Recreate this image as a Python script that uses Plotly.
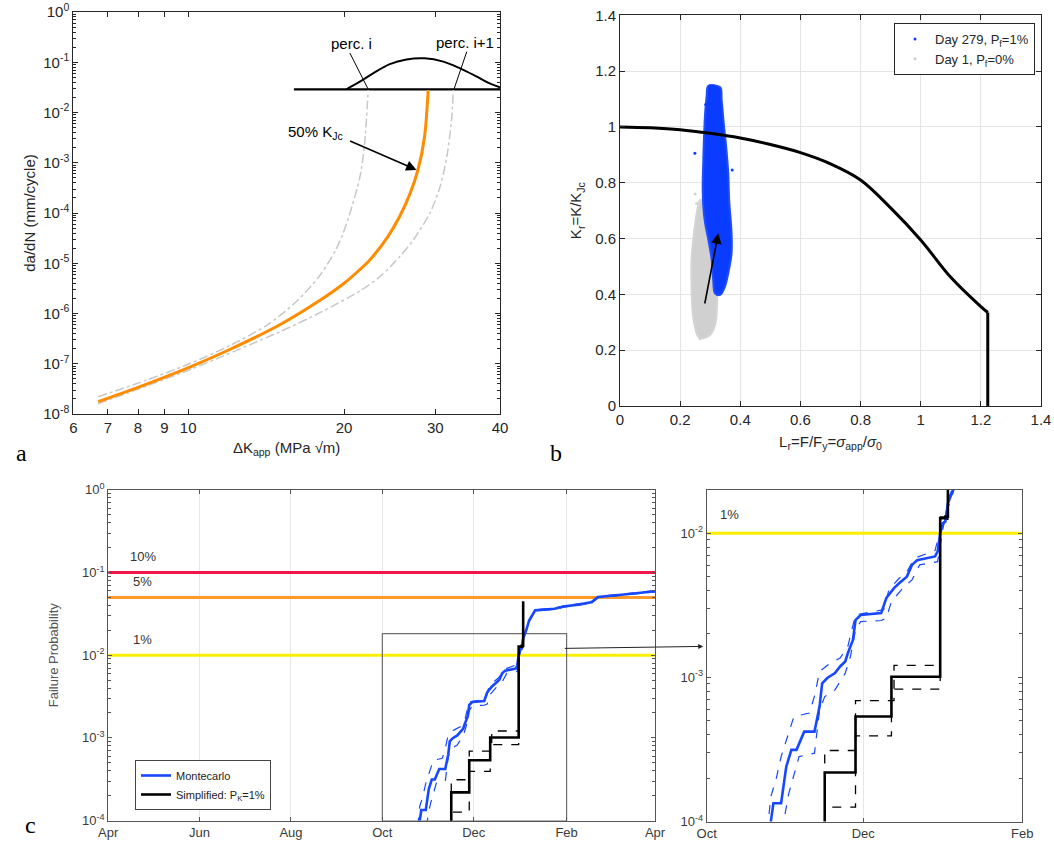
import math
import plotly.graph_objects as go

W, H = 1054, 851


def pxx(p):
    return p / W


def pxy(p):
    return 1 - p / H


# ---------------- Panel a: crack growth curves ----------------
dk_orange = [6.7, 8, 10.1, 12, 15, 18, 20, 21.2, 22.4, 24.3, 25.6, 26.8, 27.8, 28.6, 29.07]
dadn_orange = [1.76e-8, 3.4e-8, 8.7e-8, 1.9e-7, 5.9e-7, 1.85e-6, 4.0e-6, 6.7e-6, 1.15e-5, 3.4e-5, 8.5e-5,
               2.4e-4, 7.5e-4, 3.3e-3, 2.8e-2]

dk_perc_i = [6.7, 8.3, 10.1, 12.0, 14.2, 16.2, 18.0, 19.3, 19.9, 20.5, 21.45, 21.9, 22.26]
dadn_perc_i = [2.2e-8, 4.7e-8, 1.02e-7, 2.27e-7, 5.9e-7, 1.75e-6, 5.9e-6, 1.9e-5, 3.9e-5, 9.5e-5, 5.1e-4,
               2.3e-3, 2.8e-2]

dk_perc_i1 = [6.7, 10.1, 15.0, 18.0, 21.45, 23.5, 25.6, 27.2, 29.3, 30.6, 31.5, 32.25, 32.5]
dadn_perc_i1 = [1.6e-8, 7.7e-8, 4.3e-7, 1.05e-6, 2.8e-6, 5.5e-6, 1.35e-5, 2.9e-5, 1.0e-4, 3.2e-4, 1.13e-3,
                7.1e-3, 2.8e-2]

bell_x = [20.2, 21.45, 22.75, 24.5, 26.4, 28.6, 31.1, 33.5, 36.1, 38.2, 40]
bell_y = [0.029, 0.041, 0.060, 0.092, 0.114, 0.120, 0.103, 0.0757, 0.0516, 0.038, 0.0316]
base_x = [16.0, 40]
base_y = [0.0289, 0.0289]

perc_i_ptr_x = [20.52, 22.26]
perc_i_ptr_y = [0.153, 0.029]
perc_i1_ptr_x = [34.5, 32.6]
perc_i1_ptr_y = [0.162, 0.029]

a_xticks = [6, 7, 8, 9, 10, 20, 30, 40]
a_yexp = list(range(-8, 1))

# ---------------- Panel b: failure assessment diagram ----------------
lr_fad = [0, 0.1, 0.2, 0.3, 0.4, 0.5, 0.6, 0.7, 0.8, 0.9, 1.0, 1.1, 1.2, 1.223]
kr_fad = [1.0, 0.997, 0.99, 0.977, 0.96, 0.937, 0.908, 0.868, 0.81, 0.71, 0.595, 0.461, 0.356, 0.335]
lr_cutoff = [1.223, 1.223]
kr_cutoff = [0.335, 0.0]

blue_cloud_x = [0.294, 0.333, 0.338, 0.346, 0.352, 0.360, 0.363, 0.371, 0.371, 0.360, 0.349, 0.333, 0.316,
                0.310, 0.305, 0.294, 0.283, 0.277, 0.275, 0.277, 0.279, 0.283, 0.288, 0.294]
blue_cloud_y = [1.147, 1.142, 1.097, 1.001, 0.941, 0.834, 0.738, 0.619, 0.547, 0.476, 0.428, 0.398, 0.404,
                0.452, 0.523, 0.595, 0.655, 0.715, 0.786, 0.882, 0.953, 1.049, 1.109, 1.147]
grey_cloud_x = [0.266, 0.255, 0.246, 0.238, 0.238, 0.241, 0.249, 0.260, 0.277, 0.299, 0.316, 0.322, 0.322,
                0.310, 0.294, 0.283, 0.271, 0.266]
grey_cloud_y = [0.738, 0.691, 0.619, 0.523, 0.428, 0.344, 0.284, 0.249, 0.243, 0.254, 0.290, 0.344, 0.404,
                0.500, 0.619, 0.703, 0.738, 0.738]
blue_out_x = [0.249, 0.373, 0.299, 0.310, 0.322, 0.285]
blue_out_y = [0.906, 0.846, 1.147, 1.145, 1.141, 1.08]
grey_out_x = [0.255, 0.266, 0.250]
grey_out_y = [0.726, 0.241, 0.760]

# ---------------- Panel c: failure probability vs time ----------------
mc_dates = ["2018-10-25", "2018-10-26", "2018-10-27", "2018-10-30", "2018-11-01", "2018-11-03", "2018-11-05",
            "2018-11-08", "2018-11-12", "2018-11-14", "2018-11-15", "2018-11-17", "2018-11-20", "2018-11-22",
            "2018-11-24", "2018-11-25", "2018-11-27", "2018-11-28", "2018-11-30", "2018-12-08", "2018-12-10",
            "2018-12-13", "2018-12-15", "2018-12-18", "2018-12-20", "2018-12-22", "2018-12-29", "2018-12-30",
            "2018-12-31", "2019-01-01", "2019-01-02", "2019-01-03", "2019-01-05", "2019-01-07", "2019-01-11",
            "2019-01-24", "2019-01-30", "2019-02-10", "2019-02-18", "2019-02-22", "2019-03-13", "2019-04-01"]
mc_pf = [8.5e-5, 1.0e-4, 1.34e-4, 1.34e-4, 2.4e-4, 3.14e-4, 3.14e-4,
         4.2e-4, 4.2e-4, 6.3e-4, 9.1e-4, 9.9e-4, 1.07e-3, 1.19e-3,
         1.29e-3, 1.47e-3, 1.82e-3, 2.5e-3, 2.71e-3, 2.79e-3, 3.55e-3,
         4.16e-3, 4.5e-3, 5.0e-3, 6.03e-3, 6.5e-3, 6.9e-3, 7.45e-3,
         1.0e-2, 1.17e-2, 1.2e-2, 1.61e-2, 2.0e-2, 2.63e-2, 3.49e-2,
         3.65e-2, 3.88e-2, 4.12e-2, 4.4e-2, 5.06e-2, 5.46e-2, 5.93e-2]

mc_up_dates = ["2018-10-24", "2018-10-25", "2018-10-26", "2018-10-28", "2018-10-30", "2018-11-02", "2018-11-04",
               "2018-11-10", "2018-11-12", "2018-11-14", "2018-11-18", "2018-11-22", "2018-11-25", "2018-11-28",
               "2018-12-09", "2018-12-11", "2018-12-15", "2018-12-18", "2018-12-21", "2018-12-29", "2018-12-31",
               "2019-01-02", "2019-01-03", "2019-01-05", "2019-01-07", "2019-01-11", "2019-01-24", "2019-01-30",
               "2019-02-10", "2019-02-18", "2019-02-22", "2019-03-13", "2019-04-01"]
mc_up_pf = [8.5e-5, 1.0e-4, 1.49e-4, 1.95e-4, 2.82e-4, 4.1e-4, 5.35e-4,
            5.65e-4, 7.4e-4, 1.1e-3, 1.25e-3, 1.36e-3, 1.64e-3, 2.71e-3,
            2.95e-3, 4.05e-3, 4.87e-3, 5.4e-3, 6.7e-3, 7.6e-3, 1.05e-2,
            1.25e-2, 1.7e-2, 2.1e-2, 2.7e-2, 3.55e-2, 3.72e-2, 3.95e-2,
            4.2e-2, 4.5e-2, 5.15e-2, 5.55e-2, 6.05e-2]

mc_lo_dates = ["2018-10-30", "2018-10-31", "2018-11-02", "2018-11-06", "2018-11-12", "2018-11-14", "2018-11-16",
               "2018-11-20", "2018-11-24", "2018-11-26", "2018-11-28", "2018-11-30", "2018-12-08", "2018-12-10",
               "2018-12-12", "2018-12-17", "2018-12-20", "2018-12-23", "2018-12-30", "2018-12-31", "2019-01-01",
               "2019-01-03", "2019-01-05", "2019-01-07", "2019-01-11", "2019-01-24", "2019-01-30", "2019-02-10",
               "2019-02-18", "2019-02-22", "2019-03-13", "2019-04-01"]
mc_lo_pf = [8.5e-5, 1.0e-4, 1.57e-4, 2.82e-4, 2.98e-4, 5.95e-4, 7.36e-4,
            8.2e-4, 1.07e-3, 1.39e-3, 2.13e-3, 2.44e-3, 2.48e-3, 2.57e-3,
            3.36e-3, 4.27e-3, 4.74e-3, 6.03e-3, 6.35e-3, 8.07e-3, 1.07e-2,
            1.5e-2, 1.9e-2, 2.55e-2, 3.42e-2, 3.58e-2, 3.8e-2, 4.04e-2,
            4.3e-2, 4.97e-2, 5.37e-2, 5.82e-2]

simp_dates = ["2018-11-16", "2018-11-16", "2018-11-28", "2018-12-12", "2018-12-31", "2019-01-02", "2019-01-03"]
simp_pf = [8e-5, 2.19e-4, 5.35e-4, 1.01e-3, 1.27e-2, 1.3e-2, 4.5e-2]
simp_up_dates = ["2018-11-16", "2018-11-16", "2018-11-28", "2018-12-13", "2018-12-31", "2019-01-02", "2019-01-03"]
simp_up_pf = [8e-5, 3.11e-4, 6.9e-4, 1.21e-3, 1.3e-2, 1.35e-2, 4.6e-2]
simp_lo_dates = ["2018-11-16", "2018-11-16", "2018-11-28", "2018-12-12", "2018-12-31", "2019-01-02", "2019-01-03"]
simp_lo_pf = [8e-5, 1.26e-4, 3.93e-4, 8.3e-4, 1.2e-2, 1.25e-2, 4.4e-2]

levels = [0.1, 0.05, 0.01]
level_labels = ["10%", "5%", "1%"]
level_colors = ["#f0164a", "#ff9a2a", "#ffee00"]

c_start, c_end = "2018-04-01", "2019-04-01"
z_start, z_end = "2018-10-01", "2019-02-01"
zoom_box_top = 0.0182
zoom_box_bottom = 1e-4

c_tickdates = ["2018-04-01", "2018-06-01", "2018-08-01", "2018-10-01", "2018-12-01", "2019-02-01", "2019-04-01"]
c_ticknames = ["Apr", "Jun", "Aug", "Oct", "Dec", "Feb", "Apr"]
z_tickdates = ["2018-10-01", "2018-12-01", "2019-02-01"]
z_ticknames = ["Oct", "Dec", "Feb"]

# ---------------- figure ----------------
BLUE = "#1747ff"
SANS = "Liberation Sans, Arial, sans-serif"
NARROW = "Liberation Sans Narrow, Liberation Sans, Arial, sans-serif"
AX = "#262626"

fig = go.Figure()

# Panel a
fig.add_trace(go.Scatter(x=base_x, y=base_y, mode="lines", line=dict(color="black", width=2.2),
                         showlegend=False, xaxis="x", yaxis="y"))
fig.add_trace(go.Scatter(x=bell_x, y=bell_y, mode="lines", line=dict(color="black", width=2, shape="spline"),
                         showlegend=False, xaxis="x", yaxis="y"))
fig.add_trace(go.Scatter(x=dk_perc_i, y=dadn_perc_i, mode="lines",
                         line=dict(color="#c8c8c8", width=1.5, dash="dashdot", shape="spline", smoothing=0.8),
                         showlegend=False, xaxis="x", yaxis="y"))
fig.add_trace(go.Scatter(x=dk_perc_i1, y=dadn_perc_i1, mode="lines",
                         line=dict(color="#c8c8c8", width=1.5, dash="dashdot", shape="spline", smoothing=0.8),
                         showlegend=False, xaxis="x", yaxis="y"))
fig.add_trace(go.Scatter(x=dk_orange, y=dadn_orange, mode="lines",
                         line=dict(color="#ff8c00", width=3, shape="spline", smoothing=0.8),
                         showlegend=False, xaxis="x", yaxis="y"))
fig.add_trace(go.Scatter(x=perc_i_ptr_x, y=perc_i_ptr_y, mode="lines", line=dict(color="black", width=1),
                         showlegend=False, xaxis="x", yaxis="y"))
fig.add_trace(go.Scatter(x=perc_i1_ptr_x, y=perc_i1_ptr_y, mode="lines", line=dict(color="black", width=1),
                         showlegend=False, xaxis="x", yaxis="y"))

# Panel b
fig.add_trace(go.Scatter(x=grey_cloud_x, y=grey_cloud_y, mode="lines", fill="toself",
                         fillcolor="#d0d0d0", line=dict(color="#d4d4d4", width=2, shape="spline"),
                         showlegend=False, xaxis="x2", yaxis="y2"))
fig.add_trace(go.Scatter(x=blue_cloud_x, y=blue_cloud_y, mode="lines", fill="toself",
                         fillcolor="#0a3cff", line=dict(color="#1f4dff", width=2, shape="spline"),
                         showlegend=False, xaxis="x2", yaxis="y2"))
fig.add_trace(go.Scatter(x=blue_out_x, y=blue_out_y, mode="markers", marker=dict(color="#0a3cff", size=3),
                         name="Day 279, P<sub>f</sub>=1%", legend="legend", legendrank=1,
                         xaxis="x2", yaxis="y2"))
fig.add_trace(go.Scatter(x=grey_out_x, y=grey_out_y, mode="markers", marker=dict(color="#d0d0d0", size=3),
                         name="Day 1, P<sub>f</sub>=0%", legend="legend", legendrank=2,
                         xaxis="x2", yaxis="y2"))
fig.add_trace(go.Scatter(x=lr_fad, y=kr_fad, mode="lines", line=dict(color="black", width=3, shape="spline"),
                         showlegend=False, xaxis="x2", yaxis="y2"))
fig.add_trace(go.Scatter(x=lr_cutoff, y=kr_cutoff, mode="lines", line=dict(color="black", width=3),
                         showlegend=False, xaxis="x2", yaxis="y2"))

# Panel c (left and zoomed right)
for xa, ya, xr in (("x3", "y3", (c_start, c_end)), ("x4", "y4", (z_start, z_end))):
    for lvl, col in zip(levels, level_colors):
        if xa == "x4" and lvl != 0.01:
            continue
        fig.add_trace(go.Scatter(x=list(xr), y=[lvl, lvl], mode="lines", line=dict(color=col, width=3),
                                 showlegend=False, xaxis=xa, yaxis=ya))
    if xa == "x3":
        fig.add_trace(go.Scatter(x=[z_start, z_start, z_end, z_end, z_start],
                                 y=[zoom_box_bottom, zoom_box_top, zoom_box_top, zoom_box_bottom, zoom_box_bottom],
                                 mode="lines", line=dict(color="#6e6e6e", width=1.2),
                                 showlegend=False, xaxis=xa, yaxis=ya))
    fig.add_trace(go.Scatter(x=mc_up_dates, y=mc_up_pf, mode="lines",
                             line=dict(color=BLUE, width=1.2, dash="dash"),
                             showlegend=False, xaxis=xa, yaxis=ya))
    fig.add_trace(go.Scatter(x=mc_lo_dates, y=mc_lo_pf, mode="lines",
                             line=dict(color=BLUE, width=1.2, dash="dash"),
                             showlegend=False, xaxis=xa, yaxis=ya))
    fig.add_trace(go.Scatter(x=simp_up_dates, y=simp_up_pf, mode="lines",
                             line=dict(color="black", width=1.3, dash="dash", shape="hv"),
                             showlegend=False, xaxis=xa, yaxis=ya))
    fig.add_trace(go.Scatter(x=simp_lo_dates, y=simp_lo_pf, mode="lines",
                             line=dict(color="black", width=1.3, dash="dash", shape="hv"),
                             showlegend=False, xaxis=xa, yaxis=ya))
    fig.add_trace(go.Scatter(x=mc_dates, y=mc_pf, mode="lines", line=dict(color=BLUE, width=2.6),
                             name="Montecarlo", legend="legend2", showlegend=(xa == "x3"),
                             xaxis=xa, yaxis=ya))
    fig.add_trace(go.Scatter(x=simp_dates, y=simp_pf, mode="lines",
                             line=dict(color="black", width=2.6, shape="hv"),
                             name="Simplified: P<sub>K</sub>=1%", legend="legend2", showlegend=(xa == "x3"),
                             xaxis=xa, yaxis=ya))


def minor_log(lo, hi):
    return [m * 10 ** e for e in range(lo, hi) for m in range(2, 10)]


def sup_labels(exps):
    return ["10<sup>%d</sup>" % e for e in exps]


common = dict(showline=True, mirror="ticks", ticks="inside", zeroline=False, linewidth=1, automargin=False,
              ticklabeloverflow="allow")
CFONT = dict(family=NARROW, size=13, color="#3a3a3a")

layout = dict(
    width=W, height=H, margin=dict(l=0, r=0, t=0, b=0, autoexpand=False),
    paper_bgcolor="white", plot_bgcolor="white",
    font=dict(family=SANS, size=15, color=AX),
    xaxis=dict(domain=[pxx(73.3), pxx(500)], type="log", range=[math.log10(6), math.log10(40)],
               tickvals=a_xticks, ticktext=[str(v) for v in a_xticks], ticklen=5,
               linecolor=AX, tickcolor=AX, showgrid=False,
               title=dict(text="ΔK<sub>app</sub> (MPa √m)", font=dict(size=15), standoff=7),
               anchor="y", **common),
    yaxis=dict(domain=[pxy(414), pxy(12)], type="log", range=[-8, 0],
               tickvals=[10.0 ** e for e in a_yexp], ticktext=sup_labels(a_yexp), ticklen=5,
               minor=dict(tickvals=minor_log(-8, 0), ticklen=3, ticks="inside", tickcolor=AX),
               linecolor=AX, tickcolor=AX, showgrid=False,
               title=dict(text="da/dN (mm/cycle)", font=dict(size=15), standoff=4),
               anchor="x", **common),
    xaxis2=dict(domain=[pxx(620), pxx(1041)], range=[0, 1.4], dtick=0.2, tick0=0, ticklen=5,
                linecolor=AX, tickcolor=AX, showgrid=True, gridcolor="#e4e4e4",
                title=dict(text="L<sub>r</sub>=F/F<sub>y</sub>=<i>σ</i><sub>app</sub>/<i>σ</i><sub>0</sub>",
                           font=dict(size=15), standoff=9),
                anchor="y2", **common),
    yaxis2=dict(domain=[pxy(406), pxy(15.3)], range=[0, 1.4], dtick=0.2, tick0=0, ticklen=5,
                linecolor=AX, tickcolor=AX, showgrid=True, gridcolor="#e4e4e4",
                title=dict(text="K<sub>r</sub>=K/K<sub>Jc</sub>", font=dict(size=15), standoff=9),
                anchor="x2", **common),
    xaxis3=dict(domain=[pxx(108.2), pxx(655)], type="date", range=[c_start, c_end],
                tickvals=c_tickdates, ticktext=c_ticknames, ticklen=4, tickfont=CFONT,
                linecolor="#555555", tickcolor="#555555", showgrid=True, gridcolor="#e6e6e6",
                anchor="y3", **common),
    yaxis3=dict(domain=[pxy(820.5), pxy(489.9)], type="log", range=[-4, 0],
                tickvals=[1e-4, 1e-3, 1e-2, 1e-1, 1], ticktext=sup_labels([-4, -3, -2, -1, 0]), ticklen=4,
                tickfont=CFONT,
                minor=dict(tickvals=minor_log(-4, 0), ticklen=3, ticks="inside", tickcolor="#555555"),
                linecolor="#555555", tickcolor="#555555", showgrid=False,
                title=dict(text="Failure Probability", font=dict(family=NARROW, size=13, color="#555555"),
                           standoff=20),
                anchor="x3", **common),
    xaxis4=dict(domain=[pxx(706.7), pxx(1022.3)], type="date", range=[z_start, z_end],
                tickvals=z_tickdates, ticktext=z_ticknames, ticklen=4, tickfont=CFONT,
                linecolor="#555555", tickcolor="#555555", showgrid=True, gridcolor="#e6e6e6",
                anchor="y4", **common),
    yaxis4=dict(domain=[pxy(821.5), pxy(490)], type="log", range=[-4, -1.70],
                tickvals=[1e-4, 1e-3, 1e-2], ticktext=sup_labels([-4, -3, -2]), ticklen=4,
                tickfont=CFONT,
                minor=dict(tickvals=minor_log(-4, -1), ticklen=3, ticks="inside", tickcolor="#555555"),
                linecolor="#555555", tickcolor="#555555", showgrid=False,
                anchor="x4", **common),
    legend=dict(x=pxx(894), y=pxy(23), xanchor="left", yanchor="top", bgcolor="white",
                bordercolor=AX, borderwidth=1, font=dict(size=13), itemsizing="trace",
                tracegroupgap=2),
    legend2=dict(x=pxx(135), y=pxy(760), xanchor="left", yanchor="top", bgcolor="white",
                 bordercolor="#444444", borderwidth=1, font=dict(family=NARROW, size=11, color="#222222"),
                 tracegroupgap=0, itemwidth=30),
    showlegend=True,
)
fig.update_layout(**layout)

ann = []
# panel a texts and arrow
ann.append(dict(xref="x", yref="y", x=math.log10(20.7), y=-0.623, text="perc. i", showarrow=False,
                font=dict(size=15, color="black")))
ann.append(dict(xref="x", yref="y", x=1.534, y=-0.603, text="perc. i+1", showarrow=False,
                font=dict(size=15, color="black")))
ann.append(dict(xref="x", yref="y", x=1.2465, y=-2.40, text="50% K<sub>Jc</sub>", showarrow=False,
                font=dict(size=15, color="black")))
ann.append(dict(xref="x", yref="y", x=math.log10(27.6), y=math.log10(7.2e-4), axref="x", ayref="y",
                ax=math.log10(20.4), ay=math.log10(2.8e-3), text="", showarrow=True, arrowhead=2,
                arrowsize=1.3, arrowwidth=1.6, arrowcolor="black"))
# panel b arrow
ann.append(dict(xref="x2", yref="y2", x=0.327, y=0.619, axref="x2", ayref="y2", ax=0.281, ay=0.362,
                text="", showarrow=True, arrowhead=2, arrowsize=1.3, arrowwidth=1.6, arrowcolor="black"))
# panel c level labels
for lvl_lab, yl in zip(level_labels, [-0.811, -1.106, -1.81]):
    ann.append(dict(xref="x3", yref="y3", x="2018-04-24", y=yl, text=lvl_lab, showarrow=False,
                    font=dict(family=NARROW, size=13, color="#333333")))
ann.append(dict(xref="x4", yref="y4", x="2018-10-10", y=-1.873, text="1%", showarrow=False,
                font=dict(family=NARROW, size=13, color="#333333")))
# arrow between c panels
ann.append(dict(xref="x4 domain", yref="y4", x=-0.011, y=math.log10(1.64e-3), ax=-140, ay=2,
                text="", showarrow=True, arrowhead=2, arrowsize=1, arrowwidth=1, arrowcolor="#222222"))
# panel labels
for lab, px_, py_ in (("a", 14, 453), ("b", 556, 453), ("c", 23, 840)):
    ann.append(dict(xref="paper", yref="paper", x=pxx(px_), y=pxy(py_), text=lab, showarrow=False,
                    font=dict(family="Liberation Serif, Times New Roman, serif", size=24, color="black")))
fig.update_layout(annotations=ann)

fig.write_html("out.html", config={"displayModeBar": False},
               post_script="document.body.style.margin='0px';document.body.style.overflow='hidden';")
